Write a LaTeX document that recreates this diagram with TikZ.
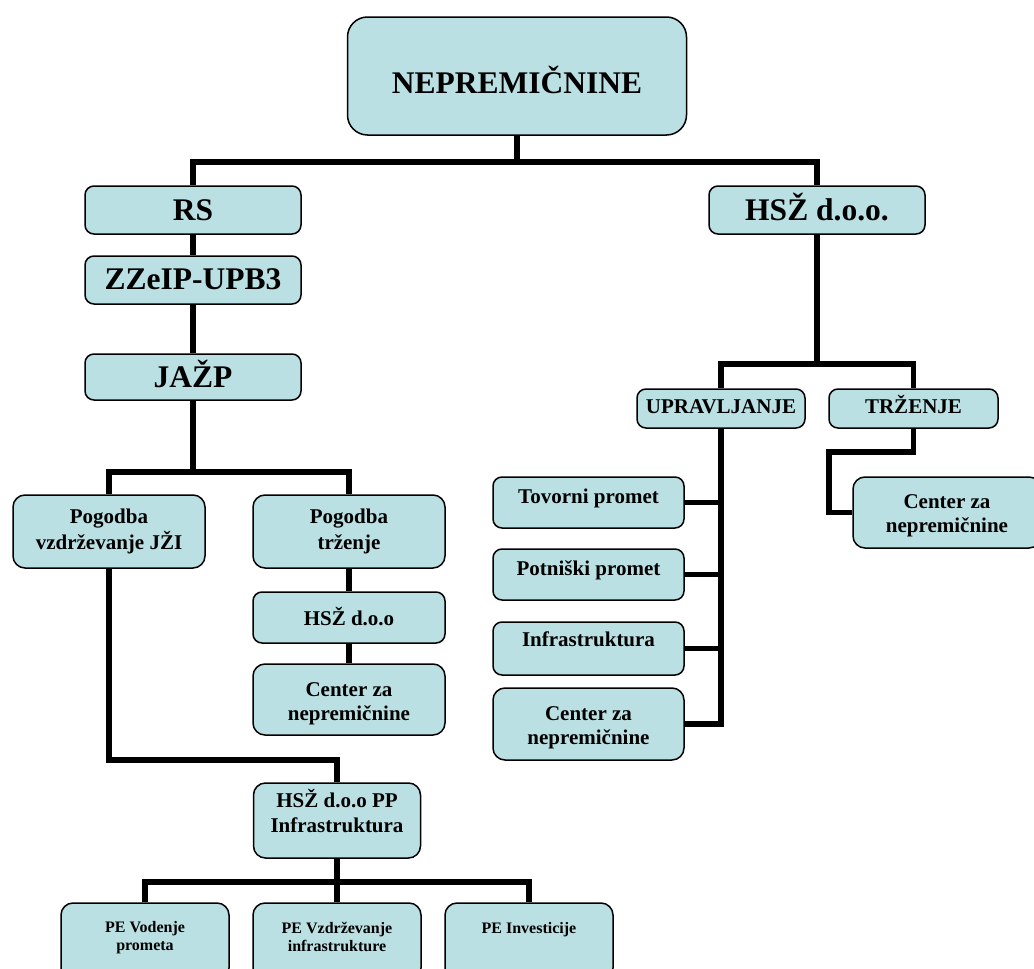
\documentclass[tikz,border=0pt]{standalone}
\usepackage{fontspec}
\setmainfont{Liberation Serif}
\definecolor{boxfill}{RGB}{187,224,227}
\tikzset{
  box/.style={draw=black, fill=boxfill, line width=1.5pt, rounded corners=9pt, inner sep=0pt, shape=rectangle},
  bigbox/.style={box, rounded corners=20pt},
  conn/.style={draw=black, line width=5.5pt, line join=miter},
  tbig/.style={font=\bfseries\fontsize{31.5}{34}\selectfont, inner sep=0pt, anchor=base},
  tmid/.style={font=\bfseries\fontsize{21}{24}\selectfont, inner sep=0pt, align=center},
  tsmall/.style={font=\bfseries\fontsize{16}{18}\selectfont, inner sep=0pt, align=center},
}
\begin{document}
\begin{tikzpicture}[x=1pt,y=-1pt]
\useasboundingbox (0,0) rectangle (1034,969);
\clip (0,0) rectangle (1034,969);
% boxes
\node[bigbox, minimum width=339pt, minimum height=118pt] (top) at (517,76) {};
\node[box, minimum width=216pt, minimum height=48pt] (rs) at (193,210) {};
\node[box, minimum width=216pt, minimum height=48pt] (zz) at (193,280) {};
\node[box, minimum width=216pt, minimum height=46pt] (ja) at (193,377) {};
\node[box, minimum width=216pt, minimum height=48pt] (hsz) at (817,210) {};
\node[box, minimum width=168pt, minimum height=39pt] (upr) at (721,408.5) {};
\node[box, minimum width=169pt, minimum height=39pt] (trz) at (913.5,408.5) {};
\node[box, minimum width=192pt, minimum height=73pt, rounded corners=12pt] (pv) at (109,531.5) {};
\node[box, minimum width=192pt, minimum height=73pt, rounded corners=12pt] (pt) at (349,531.5) {};
\node[box, minimum width=192pt, minimum height=51pt] (hd) at (349,617.5) {};
\node[box, minimum width=192pt, minimum height=71pt, rounded corners=12pt] (cl) at (349,699.5) {};
\node[box, minimum width=191pt, minimum height=51pt] (tov) at (588.5,502.5) {};
\node[box, minimum width=191pt, minimum height=51pt] (pot) at (588.5,574.5) {};
\node[box, minimum width=191pt, minimum height=53pt] (inf) at (588.5,648.5) {};
\node[box, minimum width=191pt, minimum height=72pt, rounded corners=12pt] (cr) at (588.5,724) {};
\node[box, minimum width=188pt, minimum height=71pt, rounded corners=12pt] (cz) at (947,512.5) {};
\node[box, minimum width=167pt, minimum height=75pt, rounded corners=12pt] (pp) at (337,820.5) {};
\node[box, minimum width=168pt, minimum height=77pt, rounded corners=12pt] (pe1) at (145,941.5) {};
\node[box, minimum width=168pt, minimum height=77pt, rounded corners=12pt] (pe2) at (337,941.5) {};
\node[box, minimum width=168pt, minimum height=77pt, rounded corners=12pt] (pe3) at (529,941.5) {};
% texts
\node[tbig] (ttop) at (517,93) {NEPREMIČNINE};
\node[tbig] (trs) at (193,220) {RS};
\node[tbig] (tzz) at (193,289) {ZZeIP-UPB3};
\node[tbig] (tja) at (193,387) {JAŽP};
\node[tbig] (thsz) at (817,220) {HSŽ d.o.o.};
\node[tmid, anchor=base] (tupr) at (721,413) {UPRAVLJANJE};
\node[tmid, anchor=base] (ttrz) at (913.5,413) {TRŽENJE};
\node[tmid, font=\bfseries\fontsize{21}{26}\selectfont] (tpv) at (109,531) {Pogodba\\vzdrževanje JŽI};
\node[tmid, font=\bfseries\fontsize{21}{26}\selectfont] (tpt) at (349,531) {Pogodba\\trženje};
\node[tmid, anchor=base] (thd) at (349,625) {HSŽ d.o.o};
\node[tmid] (tcl) at (349,704) {Center za\\nepremičnine};
\node[tmid, anchor=base] (ttov) at (588.5,503) {Tovorni promet};
\node[tmid, anchor=base] (tpot) at (588.5,575) {Potniški promet};
\node[tmid, anchor=base] (tinf) at (588.5,646) {Infrastruktura};
\node[tmid] (tcr) at (588.5,728) {Center za\\nepremičnine};
\node[tmid] (tcz) at (947,516) {Center za\\nepremičnine};
\node[tmid, font=\bfseries\fontsize{21}{25}\selectfont] (tpp) at (337,811) {HSŽ d.o.o PP\\Infrastruktura};
\node[tsmall] (tpe1) at (145,938) {PE Vodenje\\prometa};
\node[tsmall] (tpe2) at (337,936.5) {PE Vzdrževanje\\infrastrukture};
\node[tsmall, anchor=base] (tpe3) at (529,933) {PE Investicije};
% junctions
\coordinate (j0) at (517,162);
\coordinate (j1) at (193,472);
\coordinate (j2) at (337,760);
\coordinate (j3) at (337,882);
\coordinate (j4) at (817,364);
\coordinate (j5) at (829,452);
% connectors
\draw[conn] (top.south) -- (j0);
\draw[conn] (rs.north) |- (j0) -| (hsz.north);
\draw[conn] (rs.south) -- (zz.north);
\draw[conn] (zz.south) -- (ja.north);
\draw[conn] (ja.south) -- (j1);
\draw[conn] (pv.north) |- (j1) -| (pt.north);
\draw[conn] (pt.south) -- (hd.north);
\draw[conn] (hd.south) -- (cl.north);
\draw[conn] (pv.south) |- (j2) -- (pp.north);
\draw[conn] (pp.south) -- (pe2.north);
\draw[conn] (pe1.north) |- (j3) -| (pe3.north);
\draw[conn] (hsz.south) -- (j4);
\draw[conn] (upr.north) |- (j4) -| (trz.north);
\draw[conn] (upr.south) |- (cr.east);
\draw[conn] (tov.east) -- (tov.east -| upr.south);
\draw[conn] (pot.east) -- (pot.east -| upr.south);
\draw[conn] (inf.east) -- (inf.east -| upr.south);
\draw[conn] (trz.south) |- (j5) |- (cz.west);
\end{tikzpicture}
\end{document}
